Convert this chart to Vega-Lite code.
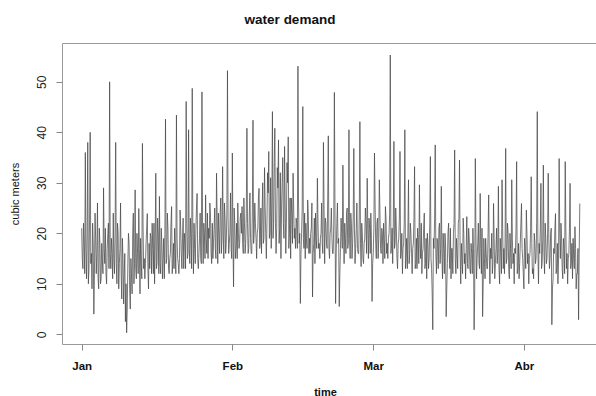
{
"$schema":"https://vega.github.io/schema/vega-lite/v6.json",
"width":534,"height":301,
"autosize":{"type":"none"},
"padding":{"left":62,"top":43,"right":0,"bottom":52},
"background":"white",
"config":{"view":{"stroke":"#999","strokeWidth":1},"font":"Liberation Sans"},
"title":{"text":"water demand","fontSize":13.5,"fontWeight":"bold","font":"Liberation Sans","color":"#111","dx":-39,"dy":14.5,"offset":20.5,"baseline":"alphabetic","frame":"group"},
"data":{"values":[
{"t":"2016-01-01T00:00","v":21},{"t":"2016-01-01T03:00","v":15},{"t":"2016-01-01T06:00","v":13},{"t":"2016-01-01T09:00","v":22},{"t":"2016-01-01T12:00","v":18},{"t":"2016-01-01T15:00","v":12},{"t":"2016-01-01T18:00","v":36},{"t":"2016-01-01T21:00","v":17},
{"t":"2016-01-02T00:00","v":11},{"t":"2016-01-02T03:00","v":20},{"t":"2016-01-02T06:00","v":38},{"t":"2016-01-02T09:00","v":10},{"t":"2016-01-02T12:00","v":13},{"t":"2016-01-02T15:00","v":23},{"t":"2016-01-02T18:00","v":40},{"t":"2016-01-02T21:00","v":14},
{"t":"2016-01-03T00:00","v":16},{"t":"2016-01-03T03:00","v":9},{"t":"2016-01-03T06:00","v":22},{"t":"2016-01-03T09:00","v":18},{"t":"2016-01-03T12:00","v":4},{"t":"2016-01-03T15:00","v":12},{"t":"2016-01-03T18:00","v":24},{"t":"2016-01-03T21:00","v":19},
{"t":"2016-01-04T00:00","v":12},{"t":"2016-01-04T03:00","v":16},{"t":"2016-01-04T06:00","v":26},{"t":"2016-01-04T09:00","v":11},{"t":"2016-01-04T12:00","v":9},{"t":"2016-01-04T15:00","v":21},{"t":"2016-01-04T18:00","v":18},{"t":"2016-01-04T21:00","v":10},
{"t":"2016-01-05T00:00","v":11},{"t":"2016-01-05T03:00","v":18},{"t":"2016-01-05T06:00","v":15},{"t":"2016-01-05T09:00","v":12},{"t":"2016-01-05T12:00","v":29},{"t":"2016-01-05T15:00","v":17},{"t":"2016-01-05T18:00","v":14},{"t":"2016-01-05T21:00","v":21},
{"t":"2016-01-06T00:00","v":12},{"t":"2016-01-06T03:00","v":10},{"t":"2016-01-06T06:00","v":17},{"t":"2016-01-06T09:00","v":20},{"t":"2016-01-06T12:00","v":22},{"t":"2016-01-06T15:00","v":13},{"t":"2016-01-06T18:00","v":50},{"t":"2016-01-06T21:00","v":16},
{"t":"2016-01-07T00:00","v":13},{"t":"2016-01-07T03:00","v":19},{"t":"2016-01-07T06:00","v":16},{"t":"2016-01-07T09:00","v":11},{"t":"2016-01-07T12:00","v":24},{"t":"2016-01-07T15:00","v":15},{"t":"2016-01-07T18:00","v":12},{"t":"2016-01-07T21:00","v":20},
{"t":"2016-01-08T00:00","v":38},{"t":"2016-01-08T03:00","v":14},{"t":"2016-01-08T06:00","v":10},{"t":"2016-01-08T09:00","v":22},{"t":"2016-01-08T12:00","v":20},{"t":"2016-01-08T15:00","v":9},{"t":"2016-01-08T18:00","v":14},{"t":"2016-01-08T21:00","v":17},
{"t":"2016-01-09T00:00","v":26},{"t":"2016-01-09T03:00","v":12},{"t":"2016-01-09T06:00","v":7},{"t":"2016-01-09T09:00","v":19},{"t":"2016-01-09T12:00","v":15},{"t":"2016-01-09T15:00","v":6},{"t":"2016-01-09T18:00","v":12},{"t":"2016-01-09T21:00","v":16},
{"t":"2016-01-10T00:00","v":2.5},{"t":"2016-01-10T03:00","v":10},{"t":"2016-01-10T06:00","v":0.3},{"t":"2016-01-10T09:00","v":5},{"t":"2016-01-10T12:00","v":14},{"t":"2016-01-10T15:00","v":20},{"t":"2016-01-10T18:00","v":18},{"t":"2016-01-10T21:00","v":9},
{"t":"2016-01-11T00:00","v":5},{"t":"2016-01-11T03:00","v":15},{"t":"2016-01-11T06:00","v":12},{"t":"2016-01-11T09:00","v":8},{"t":"2016-01-11T12:00","v":20},{"t":"2016-01-11T15:00","v":24},{"t":"2016-01-11T18:00","v":10},{"t":"2016-01-11T21:00","v":14},
{"t":"2016-01-12T00:00","v":28.6},{"t":"2016-01-12T03:00","v":13},{"t":"2016-01-12T06:00","v":11},{"t":"2016-01-12T09:00","v":20},{"t":"2016-01-12T12:00","v":16},{"t":"2016-01-12T15:00","v":12},{"t":"2016-01-12T18:00","v":24.9},{"t":"2016-01-12T21:00","v":17},
{"t":"2016-01-13T00:00","v":8},{"t":"2016-01-13T03:00","v":19},{"t":"2016-01-13T06:00","v":14},{"t":"2016-01-13T09:00","v":11},{"t":"2016-01-13T12:00","v":37.8},{"t":"2016-01-13T15:00","v":22},{"t":"2016-01-13T18:00","v":13},{"t":"2016-01-13T21:00","v":15},
{"t":"2016-01-14T00:00","v":11},{"t":"2016-01-14T03:00","v":14},{"t":"2016-01-14T06:00","v":18},{"t":"2016-01-14T09:00","v":21},{"t":"2016-01-14T12:00","v":23.9},{"t":"2016-01-14T15:00","v":13},{"t":"2016-01-14T18:00","v":9},{"t":"2016-01-14T21:00","v":18},
{"t":"2016-01-15T00:00","v":13},{"t":"2016-01-15T03:00","v":20},{"t":"2016-01-15T06:00","v":19},{"t":"2016-01-15T09:00","v":12},{"t":"2016-01-15T12:00","v":22},{"t":"2016-01-15T15:00","v":17},{"t":"2016-01-15T18:00","v":12},{"t":"2016-01-15T21:00","v":22},
{"t":"2016-01-16T00:00","v":10},{"t":"2016-01-16T03:00","v":18},{"t":"2016-01-16T06:00","v":31.9},{"t":"2016-01-16T09:00","v":13},{"t":"2016-01-16T12:00","v":14},{"t":"2016-01-16T15:00","v":23},{"t":"2016-01-16T18:00","v":20},{"t":"2016-01-16T21:00","v":12},
{"t":"2016-01-17T00:00","v":27.3},{"t":"2016-01-17T03:00","v":14},{"t":"2016-01-17T06:00","v":12},{"t":"2016-01-17T09:00","v":21},{"t":"2016-01-17T12:00","v":18},{"t":"2016-01-17T15:00","v":11},{"t":"2016-01-17T18:00","v":15},{"t":"2016-01-17T21:00","v":19},
{"t":"2016-01-18T00:00","v":11},{"t":"2016-01-18T03:00","v":20},{"t":"2016-01-18T06:00","v":42.6},{"t":"2016-01-18T09:00","v":14},{"t":"2016-01-18T12:00","v":15},{"t":"2016-01-18T15:00","v":24},{"t":"2016-01-18T18:00","v":21},{"t":"2016-01-18T21:00","v":13},
{"t":"2016-01-19T00:00","v":12},{"t":"2016-01-19T03:00","v":15},{"t":"2016-01-19T06:00","v":16},{"t":"2016-01-19T09:00","v":22},{"t":"2016-01-19T12:00","v":25.3},{"t":"2016-01-19T15:00","v":12},{"t":"2016-01-19T18:00","v":14},{"t":"2016-01-19T21:00","v":18},
{"t":"2016-01-20T00:00","v":13},{"t":"2016-01-20T03:00","v":21},{"t":"2016-01-20T06:00","v":17},{"t":"2016-01-20T09:00","v":12},{"t":"2016-01-20T12:00","v":43.4},{"t":"2016-01-20T15:00","v":19},{"t":"2016-01-20T18:00","v":15},{"t":"2016-01-20T21:00","v":14},
{"t":"2016-01-21T00:00","v":12},{"t":"2016-01-21T03:00","v":15},{"t":"2016-01-21T06:00","v":24.6},{"t":"2016-01-21T09:00","v":21},{"t":"2016-01-21T12:00","v":16},{"t":"2016-01-21T15:00","v":13},{"t":"2016-01-21T18:00","v":19},{"t":"2016-01-21T21:00","v":23},
{"t":"2016-01-22T00:00","v":13},{"t":"2016-01-22T03:00","v":20},{"t":"2016-01-22T06:00","v":18},{"t":"2016-01-22T09:00","v":13},{"t":"2016-01-22T12:00","v":46.1},{"t":"2016-01-22T15:00","v":22},{"t":"2016-01-22T18:00","v":15},{"t":"2016-01-22T21:00","v":16},
{"t":"2016-01-23T00:00","v":40.5},{"t":"2016-01-23T03:00","v":17},{"t":"2016-01-23T06:00","v":14},{"t":"2016-01-23T09:00","v":23},{"t":"2016-01-23T12:00","v":19},{"t":"2016-01-23T15:00","v":13},{"t":"2016-01-23T18:00","v":48.7},{"t":"2016-01-23T21:00","v":20},
{"t":"2016-01-24T00:00","v":12},{"t":"2016-01-24T03:00","v":22},{"t":"2016-01-24T06:00","v":17},{"t":"2016-01-24T09:00","v":14},{"t":"2016-01-24T12:00","v":21},{"t":"2016-01-24T15:00","v":25},{"t":"2016-01-24T18:00","v":27.9},{"t":"2016-01-24T21:00","v":15},
{"t":"2016-01-25T00:00","v":13},{"t":"2016-01-25T03:00","v":16},{"t":"2016-01-25T06:00","v":19},{"t":"2016-01-25T09:00","v":24},{"t":"2016-01-25T12:00","v":15},{"t":"2016-01-25T15:00","v":14},{"t":"2016-01-25T18:00","v":48},{"t":"2016-01-25T21:00","v":21},
{"t":"2016-01-26T00:00","v":14},{"t":"2016-01-26T03:00","v":22},{"t":"2016-01-26T06:00","v":20},{"t":"2016-01-26T09:00","v":15},{"t":"2016-01-26T12:00","v":27.6},{"t":"2016-01-26T15:00","v":19},{"t":"2016-01-26T18:00","v":16},{"t":"2016-01-26T21:00","v":24},
{"t":"2016-01-27T00:00","v":15},{"t":"2016-01-27T03:00","v":21},{"t":"2016-01-27T06:00","v":19},{"t":"2016-01-27T09:00","v":26},{"t":"2016-01-27T12:00","v":23.9},{"t":"2016-01-27T15:00","v":16},{"t":"2016-01-27T18:00","v":14},{"t":"2016-01-27T21:00","v":22},
{"t":"2016-01-28T00:00","v":15},{"t":"2016-01-28T03:00","v":18},{"t":"2016-01-28T06:00","v":21},{"t":"2016-01-28T09:00","v":25},{"t":"2016-01-28T12:00","v":17},{"t":"2016-01-28T15:00","v":15},{"t":"2016-01-28T18:00","v":31.9},{"t":"2016-01-28T21:00","v":23},
{"t":"2016-01-29T00:00","v":14},{"t":"2016-01-29T03:00","v":24},{"t":"2016-01-29T06:00","v":20},{"t":"2016-01-29T09:00","v":16},{"t":"2016-01-29T12:00","v":24},{"t":"2016-01-29T15:00","v":27},{"t":"2016-01-29T18:00","v":16},{"t":"2016-01-29T21:00","v":19},
{"t":"2016-01-30T00:00","v":33.2},{"t":"2016-01-30T03:00","v":20},{"t":"2016-01-30T06:00","v":15},{"t":"2016-01-30T09:00","v":26},{"t":"2016-01-30T12:00","v":23},{"t":"2016-01-30T15:00","v":16},{"t":"2016-01-30T18:00","v":18},{"t":"2016-01-30T21:00","v":24},
{"t":"2016-01-31T00:00","v":52.2},{"t":"2016-01-31T03:00","v":23},{"t":"2016-01-31T06:00","v":16},{"t":"2016-01-31T09:00","v":18},{"t":"2016-01-31T12:00","v":20},{"t":"2016-01-31T15:00","v":28},{"t":"2016-01-31T18:00","v":17},{"t":"2016-01-31T21:00","v":15},
{"t":"2016-02-01T00:00","v":35.9},{"t":"2016-02-01T03:00","v":19},{"t":"2016-02-01T06:00","v":9.4},{"t":"2016-02-01T09:00","v":25},{"t":"2016-02-01T12:00","v":22},{"t":"2016-02-01T15:00","v":15},{"t":"2016-02-01T18:00","v":17},{"t":"2016-02-01T21:00","v":22},
{"t":"2016-02-02T00:00","v":15},{"t":"2016-02-02T03:00","v":26},{"t":"2016-02-02T06:00","v":20},{"t":"2016-02-02T09:00","v":17},{"t":"2016-02-02T12:00","v":18},{"t":"2016-02-02T15:00","v":23},{"t":"2016-02-02T18:00","v":24},{"t":"2016-02-02T21:00","v":20},
{"t":"2016-02-03T00:00","v":25.3},{"t":"2016-02-03T03:00","v":18},{"t":"2016-02-03T06:00","v":16},{"t":"2016-02-03T09:00","v":27},{"t":"2016-02-03T12:00","v":22},{"t":"2016-02-03T15:00","v":16},{"t":"2016-02-03T18:00","v":18},{"t":"2016-02-03T21:00","v":24},
{"t":"2016-02-04T00:00","v":40.8},{"t":"2016-02-04T03:00","v":22},{"t":"2016-02-04T06:00","v":16},{"t":"2016-02-04T09:00","v":17},{"t":"2016-02-04T12:00","v":24},{"t":"2016-02-04T15:00","v":28},{"t":"2016-02-04T18:00","v":19},{"t":"2016-02-04T21:00","v":16},
{"t":"2016-02-05T00:00","v":16},{"t":"2016-02-05T03:00","v":25},{"t":"2016-02-05T06:00","v":42.4},{"t":"2016-02-05T09:00","v":18},{"t":"2016-02-05T12:00","v":20},{"t":"2016-02-05T15:00","v":26},{"t":"2016-02-05T18:00","v":22},{"t":"2016-02-05T21:00","v":19},
{"t":"2016-02-06T00:00","v":15},{"t":"2016-02-06T03:00","v":20},{"t":"2016-02-06T06:00","v":21},{"t":"2016-02-06T09:00","v":27},{"t":"2016-02-06T12:00","v":28.9},{"t":"2016-02-06T15:00","v":17},{"t":"2016-02-06T18:00","v":18},{"t":"2016-02-06T21:00","v":25},
{"t":"2016-02-07T00:00","v":16},{"t":"2016-02-07T03:00","v":24},{"t":"2016-02-07T06:00","v":30},{"t":"2016-02-07T09:00","v":18},{"t":"2016-02-07T12:00","v":19},{"t":"2016-02-07T15:00","v":33},{"t":"2016-02-07T18:00","v":25.3},{"t":"2016-02-07T21:00","v":20},
{"t":"2016-02-08T00:00","v":15},{"t":"2016-02-08T03:00","v":22},{"t":"2016-02-08T06:00","v":32},{"t":"2016-02-08T09:00","v":28},{"t":"2016-02-08T12:00","v":36.2},{"t":"2016-02-08T15:00","v":19},{"t":"2016-02-08T18:00","v":20},{"t":"2016-02-08T21:00","v":31},
{"t":"2016-02-09T00:00","v":17},{"t":"2016-02-09T03:00","v":26},{"t":"2016-02-09T06:00","v":44.1},{"t":"2016-02-09T09:00","v":19},{"t":"2016-02-09T12:00","v":22},{"t":"2016-02-09T15:00","v":34},{"t":"2016-02-09T18:00","v":40.8},{"t":"2016-02-09T21:00","v":22},
{"t":"2016-02-10T00:00","v":16},{"t":"2016-02-10T03:00","v":21},{"t":"2016-02-10T06:00","v":33},{"t":"2016-02-10T09:00","v":29},{"t":"2016-02-10T12:00","v":38.5},{"t":"2016-02-10T15:00","v":18},{"t":"2016-02-10T18:00","v":21},{"t":"2016-02-10T21:00","v":32},
{"t":"2016-02-11T00:00","v":15},{"t":"2016-02-11T03:00","v":25},{"t":"2016-02-11T06:00","v":30},{"t":"2016-02-11T09:00","v":35},{"t":"2016-02-11T12:00","v":22},{"t":"2016-02-11T15:00","v":19},{"t":"2016-02-11T18:00","v":37.2},{"t":"2016-02-11T21:00","v":26},
{"t":"2016-02-12T00:00","v":16},{"t":"2016-02-12T03:00","v":22},{"t":"2016-02-12T06:00","v":34},{"t":"2016-02-12T09:00","v":30},{"t":"2016-02-12T12:00","v":39.1},{"t":"2016-02-12T15:00","v":17},{"t":"2016-02-12T18:00","v":20},{"t":"2016-02-12T21:00","v":27},
{"t":"2016-02-13T00:00","v":15},{"t":"2016-02-13T03:00","v":27},{"t":"2016-02-13T06:00","v":24},{"t":"2016-02-13T09:00","v":18},{"t":"2016-02-13T12:00","v":31.9},{"t":"2016-02-13T15:00","v":25},{"t":"2016-02-13T18:00","v":19},{"t":"2016-02-13T21:00","v":21},
{"t":"2016-02-14T00:00","v":17},{"t":"2016-02-14T03:00","v":23},{"t":"2016-02-14T06:00","v":22},{"t":"2016-02-14T09:00","v":17},{"t":"2016-02-14T12:00","v":53.1},{"t":"2016-02-14T15:00","v":26},{"t":"2016-02-14T18:00","v":18},{"t":"2016-02-14T21:00","v":20},
{"t":"2016-02-15T00:00","v":6.1},{"t":"2016-02-15T03:00","v":16},{"t":"2016-02-15T06:00","v":20},{"t":"2016-02-15T09:00","v":25},{"t":"2016-02-15T12:00","v":45.1},{"t":"2016-02-15T15:00","v":19},{"t":"2016-02-15T18:00","v":17},{"t":"2016-02-15T21:00","v":24},
{"t":"2016-02-16T00:00","v":15},{"t":"2016-02-16T03:00","v":22},{"t":"2016-02-16T06:00","v":19},{"t":"2016-02-16T09:00","v":17},{"t":"2016-02-16T12:00","v":26.6},{"t":"2016-02-16T15:00","v":24},{"t":"2016-02-16T18:00","v":16},{"t":"2016-02-16T21:00","v":19},
{"t":"2016-02-17T00:00","v":16},{"t":"2016-02-17T03:00","v":20},{"t":"2016-02-17T06:00","v":21},{"t":"2016-02-17T09:00","v":26},{"t":"2016-02-17T12:00","v":7.4},{"t":"2016-02-17T15:00","v":16},{"t":"2016-02-17T18:00","v":18},{"t":"2016-02-17T21:00","v":23},
{"t":"2016-02-18T00:00","v":14},{"t":"2016-02-18T03:00","v":24},{"t":"2016-02-18T06:00","v":19},{"t":"2016-02-18T09:00","v":17},{"t":"2016-02-18T12:00","v":30.9},{"t":"2016-02-18T15:00","v":22},{"t":"2016-02-18T18:00","v":17},{"t":"2016-02-18T21:00","v":18},
{"t":"2016-02-19T00:00","v":15},{"t":"2016-02-19T03:00","v":19},{"t":"2016-02-19T06:00","v":20},{"t":"2016-02-19T09:00","v":26},{"t":"2016-02-19T12:00","v":18},{"t":"2016-02-19T15:00","v":16},{"t":"2016-02-19T18:00","v":38},{"t":"2016-02-19T21:00","v":25},
{"t":"2016-02-20T00:00","v":14},{"t":"2016-02-20T03:00","v":23},{"t":"2016-02-20T06:00","v":22},{"t":"2016-02-20T09:00","v":18},{"t":"2016-02-20T12:00","v":17},{"t":"2016-02-20T15:00","v":27},{"t":"2016-02-20T18:00","v":39.3},{"t":"2016-02-20T21:00","v":17},
{"t":"2016-02-21T00:00","v":15},{"t":"2016-02-21T03:00","v":20},{"t":"2016-02-21T06:00","v":21},{"t":"2016-02-21T09:00","v":25},{"t":"2016-02-21T12:00","v":19},{"t":"2016-02-21T15:00","v":16},{"t":"2016-02-21T18:00","v":16},{"t":"2016-02-21T21:00","v":22},
{"t":"2016-02-22T00:00","v":47.9},{"t":"2016-02-22T03:00","v":24},{"t":"2016-02-22T06:00","v":6.1},{"t":"2016-02-22T09:00","v":16},{"t":"2016-02-22T12:00","v":22},{"t":"2016-02-22T15:00","v":26},{"t":"2016-02-22T18:00","v":18},{"t":"2016-02-22T21:00","v":19},
{"t":"2016-02-23T00:00","v":5.5},{"t":"2016-02-23T03:00","v":12},{"t":"2016-02-23T06:00","v":17},{"t":"2016-02-23T09:00","v":23},{"t":"2016-02-23T12:00","v":20},{"t":"2016-02-23T15:00","v":17},{"t":"2016-02-23T18:00","v":33.5},{"t":"2016-02-23T21:00","v":21},
{"t":"2016-02-24T00:00","v":14},{"t":"2016-02-24T03:00","v":22},{"t":"2016-02-24T06:00","v":19},{"t":"2016-02-24T09:00","v":16},{"t":"2016-02-24T12:00","v":24},{"t":"2016-02-24T15:00","v":25},{"t":"2016-02-24T18:00","v":17},{"t":"2016-02-24T21:00","v":18},
{"t":"2016-02-25T00:00","v":40.5},{"t":"2016-02-25T03:00","v":19},{"t":"2016-02-25T06:00","v":15},{"t":"2016-02-25T09:00","v":24},{"t":"2016-02-25T12:00","v":22},{"t":"2016-02-25T15:00","v":15},{"t":"2016-02-25T18:00","v":18},{"t":"2016-02-25T21:00","v":23},
{"t":"2016-02-26T00:00","v":36.8},{"t":"2016-02-26T03:00","v":21},{"t":"2016-02-26T06:00","v":14},{"t":"2016-02-26T09:00","v":17},{"t":"2016-02-26T12:00","v":21},{"t":"2016-02-26T15:00","v":26},{"t":"2016-02-26T18:00","v":17},{"t":"2016-02-26T21:00","v":16},
{"t":"2016-02-27T00:00","v":16},{"t":"2016-02-27T03:00","v":24},{"t":"2016-02-27T06:00","v":42.1},{"t":"2016-02-27T09:00","v":18},{"t":"2016-02-27T12:00","v":13.4},{"t":"2016-02-27T15:00","v":22},{"t":"2016-02-27T18:00","v":20},{"t":"2016-02-27T21:00","v":15},
{"t":"2016-02-28T00:00","v":14},{"t":"2016-02-28T03:00","v":18},{"t":"2016-02-28T06:00","v":19},{"t":"2016-02-28T09:00","v":25},{"t":"2016-02-28T12:00","v":22},{"t":"2016-02-28T15:00","v":16},{"t":"2016-02-28T18:00","v":30.9},{"t":"2016-02-28T21:00","v":21},
{"t":"2016-02-29T00:00","v":15},{"t":"2016-02-29T03:00","v":23},{"t":"2016-02-29T06:00","v":21},{"t":"2016-02-29T09:00","v":16},{"t":"2016-02-29T12:00","v":24},{"t":"2016-02-29T15:00","v":19},{"t":"2016-02-29T18:00","v":6.5},{"t":"2016-02-29T21:00","v":14},
{"t":"2016-03-01T00:00","v":16},{"t":"2016-03-01T03:00","v":21},{"t":"2016-03-01T06:00","v":35.9},{"t":"2016-03-01T09:00","v":26},{"t":"2016-03-01T12:00","v":18},{"t":"2016-03-01T15:00","v":15},{"t":"2016-03-01T18:00","v":22},{"t":"2016-03-01T21:00","v":23},
{"t":"2016-03-02T00:00","v":15},{"t":"2016-03-02T03:00","v":19},{"t":"2016-03-02T06:00","v":30.6},{"t":"2016-03-02T09:00","v":24},{"t":"2016-03-02T12:00","v":17},{"t":"2016-03-02T15:00","v":16},{"t":"2016-03-02T18:00","v":21},{"t":"2016-03-02T21:00","v":20},
{"t":"2016-03-03T00:00","v":14},{"t":"2016-03-03T03:00","v":22},{"t":"2016-03-03T06:00","v":19},{"t":"2016-03-03T09:00","v":15},{"t":"2016-03-03T12:00","v":25.3},{"t":"2016-03-03T15:00","v":23},{"t":"2016-03-03T18:00","v":16},{"t":"2016-03-03T21:00","v":18},
{"t":"2016-03-04T00:00","v":15},{"t":"2016-03-04T03:00","v":19},{"t":"2016-03-04T06:00","v":20},{"t":"2016-03-04T09:00","v":24},{"t":"2016-03-04T12:00","v":55.3},{"t":"2016-03-04T15:00","v":16},{"t":"2016-03-04T18:00","v":17},{"t":"2016-03-04T21:00","v":21},
{"t":"2016-03-05T00:00","v":14},{"t":"2016-03-05T03:00","v":22},{"t":"2016-03-05T06:00","v":38.2},{"t":"2016-03-05T09:00","v":17},{"t":"2016-03-05T12:00","v":18},{"t":"2016-03-05T15:00","v":25},{"t":"2016-03-05T18:00","v":21},{"t":"2016-03-05T21:00","v":15},
{"t":"2016-03-06T00:00","v":13},{"t":"2016-03-06T03:00","v":18},{"t":"2016-03-06T06:00","v":19},{"t":"2016-03-06T09:00","v":23},{"t":"2016-03-06T12:00","v":36.2},{"t":"2016-03-06T15:00","v":15},{"t":"2016-03-06T18:00","v":16},{"t":"2016-03-06T21:00","v":20},
{"t":"2016-03-07T00:00","v":12},{"t":"2016-03-07T03:00","v":17},{"t":"2016-03-07T06:00","v":18},{"t":"2016-03-07T09:00","v":22},{"t":"2016-03-07T12:00","v":40.5},{"t":"2016-03-07T15:00","v":13},{"t":"2016-03-07T18:00","v":15},{"t":"2016-03-07T21:00","v":19},
{"t":"2016-03-08T00:00","v":13},{"t":"2016-03-08T03:00","v":20},{"t":"2016-03-08T06:00","v":30.6},{"t":"2016-03-08T09:00","v":14},{"t":"2016-03-08T12:00","v":16},{"t":"2016-03-08T15:00","v":22},{"t":"2016-03-08T18:00","v":20},{"t":"2016-03-08T21:00","v":16},
{"t":"2016-03-09T00:00","v":12},{"t":"2016-03-09T03:00","v":17},{"t":"2016-03-09T06:00","v":18},{"t":"2016-03-09T09:00","v":23},{"t":"2016-03-09T12:00","v":33.2},{"t":"2016-03-09T15:00","v":13},{"t":"2016-03-09T18:00","v":14},{"t":"2016-03-09T21:00","v":19},
{"t":"2016-03-10T00:00","v":13},{"t":"2016-03-10T03:00","v":21},{"t":"2016-03-10T06:00","v":19},{"t":"2016-03-10T09:00","v":14},{"t":"2016-03-10T12:00","v":29.6},{"t":"2016-03-10T15:00","v":18},{"t":"2016-03-10T18:00","v":15},{"t":"2016-03-10T21:00","v":22},
{"t":"2016-03-11T00:00","v":12},{"t":"2016-03-11T03:00","v":16},{"t":"2016-03-11T06:00","v":17},{"t":"2016-03-11T09:00","v":21},{"t":"2016-03-11T12:00","v":24},{"t":"2016-03-11T15:00","v":13},{"t":"2016-03-11T18:00","v":14},{"t":"2016-03-11T21:00","v":19},
{"t":"2016-03-12T00:00","v":11},{"t":"2016-03-12T03:00","v":20},{"t":"2016-03-12T06:00","v":18},{"t":"2016-03-12T09:00","v":13},{"t":"2016-03-12T12:00","v":15},{"t":"2016-03-12T15:00","v":22},{"t":"2016-03-12T18:00","v":35.2},{"t":"2016-03-12T21:00","v":15},
{"t":"2016-03-13T00:00","v":13},{"t":"2016-03-13T03:00","v":8},{"t":"2016-03-13T06:00","v":0.9},{"t":"2016-03-13T09:00","v":19},{"t":"2016-03-13T12:00","v":17},{"t":"2016-03-13T15:00","v":23},{"t":"2016-03-13T18:00","v":37.5},{"t":"2016-03-13T21:00","v":16},
{"t":"2016-03-14T00:00","v":12},{"t":"2016-03-14T03:00","v":19},{"t":"2016-03-14T06:00","v":18},{"t":"2016-03-14T09:00","v":13},{"t":"2016-03-14T12:00","v":21},{"t":"2016-03-14T15:00","v":22},{"t":"2016-03-14T18:00","v":14},{"t":"2016-03-14T21:00","v":17},
{"t":"2016-03-15T00:00","v":29.3},{"t":"2016-03-15T03:00","v":16},{"t":"2016-03-15T06:00","v":11},{"t":"2016-03-15T09:00","v":20},{"t":"2016-03-15T12:00","v":17},{"t":"2016-03-15T15:00","v":12},{"t":"2016-03-15T18:00","v":20},{"t":"2016-03-15T21:00","v":18},
{"t":"2016-03-16T00:00","v":3.5},{"t":"2016-03-16T03:00","v":9},{"t":"2016-03-16T06:00","v":14},{"t":"2016-03-16T09:00","v":20},{"t":"2016-03-16T12:00","v":22},{"t":"2016-03-16T15:00","v":16},{"t":"2016-03-16T18:00","v":13},{"t":"2016-03-16T21:00","v":21},
{"t":"2016-03-17T00:00","v":11},{"t":"2016-03-17T03:00","v":17},{"t":"2016-03-17T06:00","v":17},{"t":"2016-03-17T09:00","v":12},{"t":"2016-03-17T12:00","v":20},{"t":"2016-03-17T15:00","v":22},{"t":"2016-03-17T18:00","v":36.5},{"t":"2016-03-17T21:00","v":15},
{"t":"2016-03-18T00:00","v":12},{"t":"2016-03-18T03:00","v":19},{"t":"2016-03-18T06:00","v":16},{"t":"2016-03-18T09:00","v":13},{"t":"2016-03-18T12:00","v":22},{"t":"2016-03-18T15:00","v":23},{"t":"2016-03-18T18:00","v":34.5},{"t":"2016-03-18T21:00","v":16},
{"t":"2016-03-19T00:00","v":10},{"t":"2016-03-19T03:00","v":18},{"t":"2016-03-19T06:00","v":15},{"t":"2016-03-19T09:00","v":12},{"t":"2016-03-19T12:00","v":23},{"t":"2016-03-19T15:00","v":20},{"t":"2016-03-19T18:00","v":14},{"t":"2016-03-19T21:00","v":16},
{"t":"2016-03-20T00:00","v":11},{"t":"2016-03-20T03:00","v":17},{"t":"2016-03-20T06:00","v":23.3},{"t":"2016-03-20T09:00","v":14},{"t":"2016-03-20T12:00","v":13},{"t":"2016-03-20T15:00","v":21},{"t":"2016-03-20T18:00","v":19},{"t":"2016-03-20T21:00","v":13},
{"t":"2016-03-21T00:00","v":12},{"t":"2016-03-21T03:00","v":18},{"t":"2016-03-21T06:00","v":16},{"t":"2016-03-21T09:00","v":12},{"t":"2016-03-21T12:00","v":21},{"t":"2016-03-21T15:00","v":17},{"t":"2016-03-21T18:00","v":0.9},{"t":"2016-03-21T21:00","v":9},
{"t":"2016-03-22T00:00","v":34.8},{"t":"2016-03-22T03:00","v":20},{"t":"2016-03-22T06:00","v":11},{"t":"2016-03-22T09:00","v":15},{"t":"2016-03-22T12:00","v":18},{"t":"2016-03-22T15:00","v":22},{"t":"2016-03-22T18:00","v":14},{"t":"2016-03-22T21:00","v":13},
{"t":"2016-03-23T00:00","v":27.9},{"t":"2016-03-23T03:00","v":17},{"t":"2016-03-23T06:00","v":12},{"t":"2016-03-23T09:00","v":21},{"t":"2016-03-23T12:00","v":3.5},{"t":"2016-03-23T15:00","v":10},{"t":"2016-03-23T18:00","v":19},{"t":"2016-03-23T21:00","v":15},
{"t":"2016-03-24T00:00","v":11},{"t":"2016-03-24T03:00","v":19},{"t":"2016-03-24T06:00","v":16},{"t":"2016-03-24T09:00","v":13},{"t":"2016-03-24T12:00","v":13},{"t":"2016-03-24T15:00","v":20},{"t":"2016-03-24T18:00","v":27.6},{"t":"2016-03-24T21:00","v":16},
{"t":"2016-03-25T00:00","v":10},{"t":"2016-03-25T03:00","v":17},{"t":"2016-03-25T06:00","v":15},{"t":"2016-03-25T09:00","v":20},{"t":"2016-03-25T12:00","v":12},{"t":"2016-03-25T15:00","v":14},{"t":"2016-03-25T18:00","v":25.9},{"t":"2016-03-25T21:00","v":19},
{"t":"2016-03-26T00:00","v":11},{"t":"2016-03-26T03:00","v":14},{"t":"2016-03-26T06:00","v":17},{"t":"2016-03-26T09:00","v":21},{"t":"2016-03-26T12:00","v":14},{"t":"2016-03-26T15:00","v":16},{"t":"2016-03-26T18:00","v":29.3},{"t":"2016-03-26T21:00","v":13},
{"t":"2016-03-27T00:00","v":10},{"t":"2016-03-27T03:00","v":19},{"t":"2016-03-27T06:00","v":16},{"t":"2016-03-27T09:00","v":12},{"t":"2016-03-27T12:00","v":30.6},{"t":"2016-03-27T15:00","v":21},{"t":"2016-03-27T18:00","v":13},{"t":"2016-03-27T21:00","v":17},
{"t":"2016-03-28T00:00","v":12},{"t":"2016-03-28T03:00","v":18},{"t":"2016-03-28T06:00","v":36.8},{"t":"2016-03-28T09:00","v":14},{"t":"2016-03-28T12:00","v":15},{"t":"2016-03-28T15:00","v":22},{"t":"2016-03-28T18:00","v":20},{"t":"2016-03-28T21:00","v":13},
{"t":"2016-03-29T00:00","v":11},{"t":"2016-03-29T03:00","v":20},{"t":"2016-03-29T06:00","v":17},{"t":"2016-03-29T09:00","v":13},{"t":"2016-03-29T12:00","v":30.6},{"t":"2016-03-29T15:00","v":19},{"t":"2016-03-29T18:00","v":14},{"t":"2016-03-29T21:00","v":16},
{"t":"2016-03-30T00:00","v":10},{"t":"2016-03-30T03:00","v":17},{"t":"2016-03-30T06:00","v":16},{"t":"2016-03-30T09:00","v":21},{"t":"2016-03-30T12:00","v":34.2},{"t":"2016-03-30T15:00","v":12},{"t":"2016-03-30T18:00","v":13},{"t":"2016-03-30T21:00","v":18},
{"t":"2016-03-31T00:00","v":11},{"t":"2016-03-31T03:00","v":14},{"t":"2016-03-31T06:00","v":18},{"t":"2016-03-31T09:00","v":22},{"t":"2016-03-31T12:00","v":25.9},{"t":"2016-03-31T15:00","v":17},{"t":"2016-03-31T18:00","v":15},{"t":"2016-03-31T21:00","v":12},
{"t":"2016-04-01T00:00","v":9},{"t":"2016-04-01T03:00","v":19},{"t":"2016-04-01T06:00","v":17},{"t":"2016-04-01T09:00","v":13},{"t":"2016-04-01T12:00","v":24.6},{"t":"2016-04-01T15:00","v":20},{"t":"2016-04-01T18:00","v":14},{"t":"2016-04-01T21:00","v":16},
{"t":"2016-04-02T00:00","v":10},{"t":"2016-04-02T03:00","v":15},{"t":"2016-04-02T06:00","v":16},{"t":"2016-04-02T09:00","v":21},{"t":"2016-04-02T12:00","v":31.2},{"t":"2016-04-02T15:00","v":18},{"t":"2016-04-02T18:00","v":12},{"t":"2016-04-02T21:00","v":13},
{"t":"2016-04-03T00:00","v":11},{"t":"2016-04-03T03:00","v":20},{"t":"2016-04-03T06:00","v":18},{"t":"2016-04-03T09:00","v":14},{"t":"2016-04-03T12:00","v":15},{"t":"2016-04-03T15:00","v":22},{"t":"2016-04-03T18:00","v":44.1},{"t":"2016-04-03T21:00","v":17},
{"t":"2016-04-04T00:00","v":10},{"t":"2016-04-04T03:00","v":18},{"t":"2016-04-04T06:00","v":16},{"t":"2016-04-04T09:00","v":21},{"t":"2016-04-04T12:00","v":29.9},{"t":"2016-04-04T15:00","v":13},{"t":"2016-04-04T18:00","v":14},{"t":"2016-04-04T21:00","v":19},
{"t":"2016-04-05T00:00","v":33.5},{"t":"2016-04-05T03:00","v":16},{"t":"2016-04-05T06:00","v":12},{"t":"2016-04-05T09:00","v":22},{"t":"2016-04-05T12:00","v":19},{"t":"2016-04-05T15:00","v":14},{"t":"2016-04-05T18:00","v":15},{"t":"2016-04-05T21:00","v":20},
{"t":"2016-04-06T00:00","v":31.9},{"t":"2016-04-06T03:00","v":19},{"t":"2016-04-06T06:00","v":13},{"t":"2016-04-06T09:00","v":15},{"t":"2016-04-06T12:00","v":20},{"t":"2016-04-06T15:00","v":21},{"t":"2016-04-06T18:00","v":1.9},{"t":"2016-04-06T21:00","v":9},
{"t":"2016-04-07T00:00","v":11},{"t":"2016-04-07T03:00","v":17},{"t":"2016-04-07T06:00","v":16},{"t":"2016-04-07T09:00","v":21},{"t":"2016-04-07T12:00","v":23.9},{"t":"2016-04-07T15:00","v":12},{"t":"2016-04-07T18:00","v":13},{"t":"2016-04-07T21:00","v":18},
{"t":"2016-04-08T00:00","v":10},{"t":"2016-04-08T03:00","v":15},{"t":"2016-04-08T06:00","v":34.8},{"t":"2016-04-08T09:00","v":20},{"t":"2016-04-08T12:00","v":15},{"t":"2016-04-08T15:00","v":22},{"t":"2016-04-08T18:00","v":19},{"t":"2016-04-08T21:00","v":13},
{"t":"2016-04-09T00:00","v":11},{"t":"2016-04-09T03:00","v":19},{"t":"2016-04-09T06:00","v":17},{"t":"2016-04-09T09:00","v":12},{"t":"2016-04-09T12:00","v":34.2},{"t":"2016-04-09T15:00","v":21},{"t":"2016-04-09T18:00","v":13},{"t":"2016-04-09T21:00","v":16},
{"t":"2016-04-10T00:00","v":10},{"t":"2016-04-10T03:00","v":15},{"t":"2016-04-10T06:00","v":16},{"t":"2016-04-10T09:00","v":21},{"t":"2016-04-10T12:00","v":29.9},{"t":"2016-04-10T15:00","v":13},{"t":"2016-04-10T18:00","v":14},{"t":"2016-04-10T21:00","v":18},
{"t":"2016-04-11T00:00","v":11},{"t":"2016-04-11T03:00","v":19},{"t":"2016-04-11T06:00","v":15},{"t":"2016-04-11T09:00","v":13},{"t":"2016-04-11T12:00","v":21.3},{"t":"2016-04-11T15:00","v":17},{"t":"2016-04-11T18:00","v":9},{"t":"2016-04-11T21:00","v":12},
{"t":"2016-04-12T00:00","v":12},{"t":"2016-04-12T03:00","v":17},{"t":"2016-04-12T06:00","v":2.9},{"t":"2016-04-12T09:00","v":16},{"t":"2016-04-12T12:00","v":25.9}
]},
"mark":{"type":"line","stroke":"#444","strokeWidth":0.9,"opacity":0.8,"interpolate":"linear"},
"encoding":{
"x":{"field":"t","type":"temporal",
"scale":{"domain":[{"year":2015,"month":12,"date":27,"hours":22,"minutes":48},{"year":2016,"month":4,"date":15,"hours":20}],"nice":false},
"axis":{"values":[{"year":2016,"month":1,"date":1},{"year":2016,"month":2,"date":1},{"year":2016,"month":3,"date":1},{"year":2016,"month":4,"date":1}],
"labelExpr":"['Jan','Feb','Mar','Abr'][month(datum.value)]",
"grid":false,"domain":false,"tickSize":6,"tickColor":"#888","labelFont":"Liberation Sans","labelFontSize":11.5,"labelFontWeight":"bold","labelColor":"#111","labelPadding":10,"labelBaseline":"top","labelFlush":false,"labelOverlap":false,
"title":"time","titleFont":"Liberation Sans","titleFontSize":11,"titleFontWeight":"bold","titleColor":"#111","titleY":51,"titleX":263,"titleBaseline":"alphabetic","titleAlign":"center"}},
"y":{"field":"v","type":"quantitative",
"scale":{"domain":[-1.92,57.68],"nice":false,"zero":false},
"axis":{"values":[0,10,20,30,40,50],"grid":false,"domain":false,"tickSize":6,"tickColor":"#888","labelAngle":-90,"labelAlign":"center","labelBaseline":"alphabetic","labelPadding":11,"labelFont":"Liberation Sans","labelFontSize":12,"labelColor":"#222","labelFlush":false,"labelOverlap":false,
"title":"cubic meters","titleFont":"Liberation Sans","titleFontSize":11,"titleFontWeight":"normal","titleColor":"#111","titleAngle":-90,"titleX":-44,"titleY":150.5,"titleAlign":"center","titleBaseline":"alphabetic"}}
}
}
